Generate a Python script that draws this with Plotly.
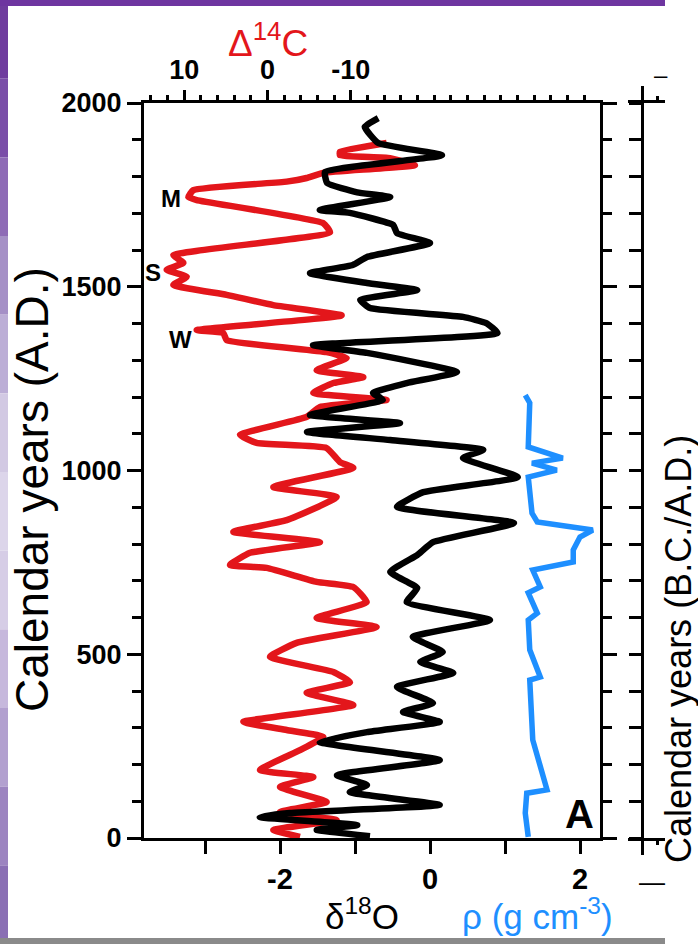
import plotly.graph_objects as go

# ---------------- data ----------------
# Black: delta18O vs calendar year
yr_d18o = [1959, 1935, 1891, 1858, 1812, 1782, 1757, 1744, 1709, 1701, 1668, 1646, 1619,
           1581, 1559, 1537, 1510, 1491, 1464, 1442, 1418, 1401, 1374, 1341, 1320, 1268,
           1238, 1211, 1192, 1151, 1129, 1105, 1083, 1056, 1034, 982, 941, 901, 857, 805,
           770, 724, 680, 642, 593, 547, 506, 479, 449, 411, 367, 343, 316, 288, 261, 212,
           171, 144, 125, 90, 68, 57, 35, 22, 5]
d18o = [-0.69, -0.87, -0.69, 0.16, -1.40, -1.37, -0.97, -0.53, -1.47, -1.07, -0.49, -0.44, 0.00,
        -0.84, -1.03, -1.60, -0.84, -0.17, -0.93, -0.80, 0.44, 0.75, 0.90, -1.56, -0.84, 0.36,
        -0.31, -0.76, -0.63, -1.60, -0.40, -1.64, -0.53, 0.71, 0.44, 1.17, -0.09, -0.44, 1.12, 0.04,
        -0.17, -0.53, -0.17, -0.31, 0.80, -0.23, 0.17, -0.13, 0.31, -0.44, 0.04, -0.36, 0.13, -0.84,
        -1.47, 0.13, -1.24, -0.84, -1.07, 0.13, -1.87, -2.27, -0.97, -1.51, -0.80]

# Red: Delta14C vs calendar year
yr_d14c = [1891, 1867, 1858, 1850, 1831, 1810, 1796, 1786, 1763, 1744, 1736, 1673, 1648, 1586,
           1565, 1546, 1527, 1505, 1478, 1450, 1422, 1382, 1374, 1355, 1322, 1306, 1273, 1254,
           1238, 1211, 1192, 1173, 1146, 1097, 1075, 1061, 1023, 1007, 955, 928, 865, 833, 805,
           776, 743, 735, 697, 683, 642, 599, 574, 531, 493, 452, 424, 395, 362, 316, 294, 275,
           239, 185, 166, 139, 98, 71, 49, 22, 3]
d14c = [-14.3, -8.7, -8.7, -14.7, -17.7, -6.7, -4.7, -2.3, 8.9, 9.5, 8.5, -6.7, -7.5, 11.3,
        10.1, 12.1, 9.7, 11.3, 4.9, -0.7, -8.9, 8.5, 5.3, 4.9, -7.1, -9.5, -5.9, -11.5,
        -7.9, -5.5, -14.3, -6.3, -4.7, 3.3, 1.3, -7.1, -8.7, -10.3, -0.7, -8.3, -2.3, 4.1, -6.3,
        2.1, 4.5, 0.1, -5.9, -10.3, -11.9, -5.9, -13.1, -3.5, -0.3, -7.9, -9.9, -4.7, -10.3, 2.9,
        -2.3, -6.7, -3.9, 0.9, -5.5, -1.5, -7.1, -1.5, -8.3, -0.7, -3.9]

# Blue: density rho vs calendar year
yr_rho = [1205, 1184, 1064, 1034, 1020, 1001, 982, 884, 860, 838, 819, 784, 751, 729, 683,
          667, 612, 593, 512, 438, 430, 330, 267, 131, 122, 68, 3]
rho = [1.27, 1.33, 1.31, 1.77, 1.36, 1.69, 1.31, 1.36, 1.43, 2.17, 2.00, 1.91, 1.91, 1.37, 1.47,
       1.31, 1.43, 1.31, 1.33, 1.47, 1.33, 1.35, 1.37, 1.56, 1.29, 1.27, 1.31]

year_ticks = [0, 500, 1000, 1500, 2000]
d18o_ticks = [-2, 0, 2]
d18o_ticktext = ["-2", "0", "2"]
d14c_ticks = [10, 0, -10]
d14c_ticktext = ["10", "0", "-10"]

# ---------------- layout geometry ----------------
W, H = 698, 944
ML, MR, MT, MB = 144, 0, 103, 106
PW, PH = W - ML - MR, H - MT - MB
MAIN_R = 600


def px(x):
    return (x - ML) / PW


def py(y):
    return (H - MB - y) / PH


RED = "#e3161b"
BLUE = "#1e8fff"
BLK = "#000000"
NARROW = "Liberation Sans Narrow, Arial Narrow, Liberation Sans, Arial, sans-serif"
SANS = "Liberation Sans, Arial, sans-serif"

fig = go.Figure()
fig.add_trace(go.Scatter(x=d14c, y=yr_d14c, xaxis="x", yaxis="y", mode="lines",
                         line=dict(color=RED, width=6.5, shape="spline", smoothing=0.4),
                         showlegend=False))
fig.add_trace(go.Scatter(x=d18o, y=yr_d18o, xaxis="x2", yaxis="y", mode="lines",
                         line=dict(color=BLK, width=6.5, shape="spline", smoothing=0.4),
                         showlegend=False))
fig.add_trace(go.Scatter(x=rho, y=yr_rho, xaxis="x2", yaxis="y", mode="lines",
                         line=dict(color=BLUE, width=5.5), showlegend=False))
fig.add_trace(go.Scatter(x=[], y=[], xaxis="x3", yaxis="y3", mode="lines", showlegend=False))

main_dom = [0, px(MAIN_R)]

fig.update_layout(
    width=W, height=H,
    margin=dict(l=ML, r=MR, t=MT, b=MB, pad=0),
    paper_bgcolor="white", plot_bgcolor="white",
    showlegend=False,
    xaxis=dict(domain=main_dom, anchor="y", side="top",
               range=[(267.5 - ML) / 8.33, (267.5 - MAIN_R) / 8.33],
               showgrid=False, zeroline=False, showline=True, linecolor=BLK, linewidth=3,
               ticks="outside", ticklen=10, tickwidth=2.5, tickcolor=BLK,
               tickmode="array", tickvals=d14c_ticks, ticktext=d14c_ticktext,
               tickfont=dict(family=NARROW, size=27, color=BLK, weight="bold"),
               minor=dict(tickmode="linear", tick0=0, dtick=2, ticks="outside", ticklen=5,
                          tickwidth=2.5, tickcolor=BLK, showgrid=False)),
    xaxis2=dict(overlaying="x", anchor="y", side="bottom",
                range=[(ML - 430) / 75, (MAIN_R - 430) / 75],
                showgrid=False, zeroline=False, showline=True, linecolor=BLK, linewidth=3,
                ticks="outside", ticklen=13, tickwidth=3, tickcolor=BLK,
                tickmode="array", tickvals=d18o_ticks, ticktext=d18o_ticktext,
                tickfont=dict(family=NARROW, size=29, color=BLK, weight="bold"),
                minor=dict(tickmode="linear", tick0=0, dtick=1, ticks="outside", ticklen=13,
                           tickwidth=3, tickcolor=BLK, showgrid=False)),
    yaxis=dict(domain=[0, 1], anchor="x", range=[0, 2000],
               showgrid=False, zeroline=False, showline=True, linecolor=BLK, linewidth=3,
               mirror="ticks", ticks="outside", ticklen=14, tickwidth=2.5, tickcolor=BLK,
               tickmode="array", tickvals=year_ticks,
               tickfont=dict(family=SANS, size=27, color=BLK, weight="bold"),
               minor=dict(tickmode="linear", tick0=0, dtick=100, ticks="outside", ticklen=9,
                          tickwidth=2.5, tickcolor=BLK, showgrid=False)),
    xaxis3=dict(domain=[px(628), px(665)], anchor="y3", range=[-14, 23],
                showgrid=False, zeroline=False, showline=True, linecolor=BLK, linewidth=3,
                mirror="ticks", ticks="outside", ticklen=14, tickwidth=2.5, tickcolor=BLK,
                tickmode="array", tickvals=[0], showticklabels=False,
                minor=dict(tickmode="array", tickvals=[15], ticks="outside", ticklen=4,
                           tickwidth=2.5, tickcolor=BLK, showgrid=False)),
    yaxis3=dict(domain=[0, 1], anchor="free", position=px(642), range=[0, 2000],
                showgrid=False, zeroline=False, showline=True, linecolor=BLK, linewidth=3,
                ticks="outside", ticklen=12, tickwidth=2.5, tickcolor=BLK,
                tickmode="linear", tick0=0, dtick=100, showticklabels=False),
)

ann = []


def add_text(text, x, y, size, color=BLK, family=SANS, weight="normal", angle=0):
    ann.append(dict(text=text, x=px(x), y=py(y), xref="paper", yref="paper",
                    showarrow=False, xanchor="center", yanchor="middle", textangle=angle,
                    font=dict(family=family, size=size, color=color, weight=weight)))


add_text("Δ<sup>14</sup>C", 268, 40, 37, RED)
add_text("δ<sup>18</sup>O", 362, 914, 35, BLK)
add_text("ρ (g cm<sup>-3</sup>)", 537, 914, 35, BLUE)
add_text("Calendar years (A.D.)", 32, 490, 46, angle=-90)
add_text("Calendar years (B.C./A.D.)", 678, 649, 36, angle=-90)
add_text("M", 171, 198, 24, weight="bold")
add_text("S", 153, 272, 24, weight="bold")
add_text("W", 180, 339, 24, weight="bold")
add_text("A", 579, 814, 40, weight="bold")
add_text("–", 661, 74, 24)
add_text("—", 652, 882, 26)
fig.update_layout(annotations=ann)

# slide decoration (purple border, grey bottom band)
shapes = []
strip_cols = ["#6f3c9e", "#7a4ea8", "#8e6bb6", "#a590c6", "#bcaed6", "#d2c9e3", "#dcd5ea",
              "#d6cde6", "#c6b8dc", "#b2a0cf", "#9c84c0", "#8a6fb4"]
n = len(strip_cols)
for i, c in enumerate(strip_cols):
    y0 = i * H / n
    y1 = (i + 1) * H / n
    shapes.append(dict(type="rect", xref="paper", yref="paper", x0=px(0), x1=px(8),
                       y0=py(y1), y1=py(y0), fillcolor=c, line=dict(width=0), layer="below"))
shapes.append(dict(type="rect", xref="paper", yref="paper", x0=px(0), x1=px(665),
                   y0=py(6), y1=py(0), fillcolor="#6e35a0", line=dict(width=0), layer="below"))
shapes.append(dict(type="rect", xref="paper", yref="paper", x0=px(0), x1=px(665),
                   y0=py(944), y1=py(938), fillcolor="#8a8a8a", line=dict(width=0), layer="below"))
fig.update_layout(shapes=shapes)

fig.write_html("out.html", config={"displayModeBar": False},
               post_script="document.body.style.margin='0px';")
